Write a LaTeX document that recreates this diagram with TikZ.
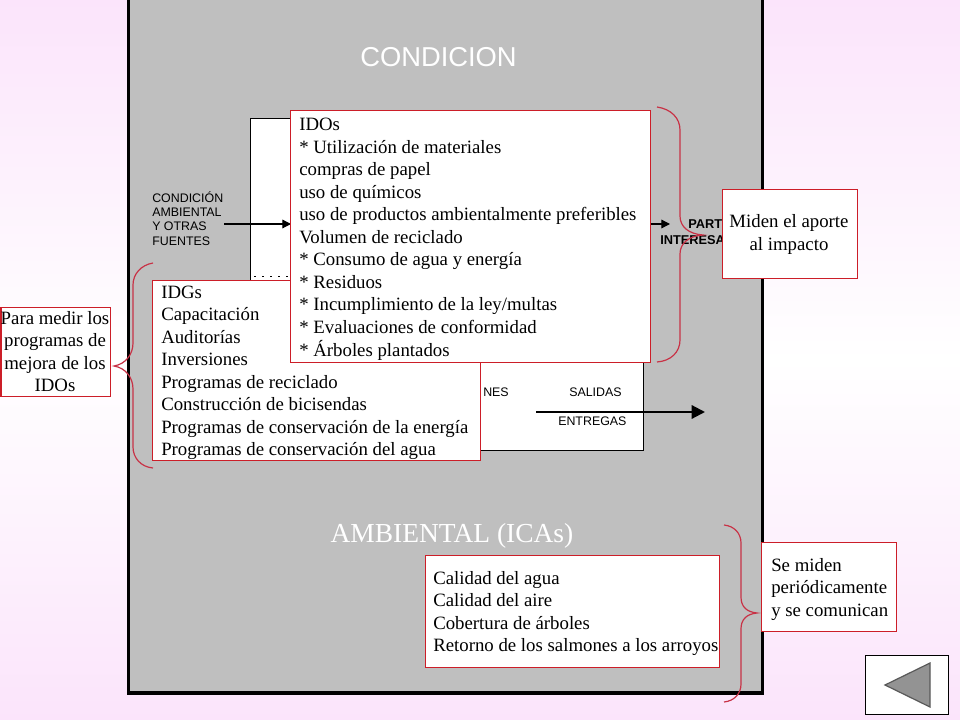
\documentclass[tikz,border=0pt]{standalone}
\usepackage{fontspec}
\setmainfont{Liberation Serif}
\setsansfont{Liberation Sans}
\usetikzlibrary{arrows.meta}
\definecolor{pinkbg}{RGB}{251,228,251}
\definecolor{panel}{RGB}{191,191,191}
\definecolor{redline}{RGB}{204,30,40}
\definecolor{bracecol}{RGB}{200,50,70}
\tikzset{
  x=0.75pt,y=-0.75pt,
  box/.style={draw=redline,line width=0.9pt,fill=white,inner sep=0pt},
  txt/.style={font=\fontsize{14.1}{16.9}\selectfont,align=left,anchor=north west,inner sep=0pt},
  ctr/.style={font=\fontsize{14.1}{16.9}\selectfont,align=center,inner sep=0pt},
  small/.style={font=\sffamily\fontsize{9.3}{10.8}\selectfont,align=left,inner sep=0pt,text=black},
  brace/.style={draw=bracecol,line width=0.9pt},
  flow/.style={draw=black,line width=0.9pt,-{Triangle[length=6.5pt,width=6.5pt]}},
  flowb/.style={draw=black,line width=1.6pt,-{Triangle[length=10pt,width=10pt]}},
}
\begin{document}
\begin{tikzpicture}
\useasboundingbox (0,0) rectangle (960,720);
\fill[top color=pinkbg,bottom color=white] (0,0) rectangle (960,360);
\fill[top color=white,bottom color=pinkbg] (0,360) rectangle (960,720);
\draw[fill=panel,draw=black,line width=2.6pt] (128.5,-3) rectangle (762.5,693);
\node[font=\sffamily\fontsize{20.5}{24}\selectfont,text=white,inner sep=0pt] (title) at (438.5,57) {CONDICION};
\node[font=\fontsize{20.6}{24}\selectfont,text=white,inner sep=0pt] (ambi) at (452,535.5) {AMBIENTAL (ICAs)};
% process box
\draw[fill=white,draw=black,line width=0.6pt] (250,118) rectangle (643,450);
\draw[black,line width=0.7pt,dash pattern=on 1.5pt off 4.5pt] (254,276) -- (288,276);
\node[small,anchor=north west] (cond) at (152,191) {CONDICIÓN\\AMBIENTAL\\Y OTRAS\\FUENTES};
\coordinate (cin) at (224,224);
\coordinate (cinend) at (291,224);
\draw[flow] (cin) -- (cinend);
\coordinate (oa) at (651,224);
\coordinate (ob) at (670,224);
\draw[flow] (oa) -- (ob);
\node[font=\sffamily\bfseries\fontsize{9.6}{12}\selectfont,align=left,anchor=north west,inner sep=0pt] (part) at (660,219) {\hspace*{21pt}PART\\INTERESA};
\node[small,anchor=west] (nes) at (483,392.5) {NES};
\node[small,anchor=west] (sal) at (569,392.5) {SALIDAS};
\node[small,anchor=west] (ent) at (558,421) {ENTREGAS};
\coordinate (sa) at (536,412);
\coordinate (sb) at (705,412);
\draw[flowb] (sa) -- (sb);
% IDGs
\node[box,minimum width=328pt*0.75,minimum height=180pt*0.75,anchor=north west] (idgbox) at (152,280) {};
\node[txt] (idgt) at (161,285.5) {IDGs\\Capacitación\\Auditorías\\Inversiones\\Programas de reciclado\\Construcción de bicisendas\\Programas de conservación de la energía\\Programas de conservación del agua};
% IDOs
\node[box,minimum width=360pt*0.75,minimum height=252pt*0.75,anchor=north west] (idobox) at (290,110) {};
\node[txt] (idot) at (299,118) {IDOs\\* Utilización de materiales\\compras de papel\\uso de químicos\\uso de productos ambientalmente preferibles\\Volumen de reciclado\\* Consumo de agua y energía\\* Residuos\\* Incumplimiento de la ley/multas\\* Evaluaciones de conformidad\\* Árboles plantados};
% ICAs
\node[box,minimum width=294pt*0.75,minimum height=112pt*0.75,anchor=north west] (icabox) at (425,555) {};
\node[txt] (icat) at (433,571) {Calidad del agua\\Calidad del aire\\Cobertura de árboles\\Retorno de los salmones a los arroyos};
% right IDO brace
\draw[brace] (657,107) .. controls (671,109) and (680,118) .. (680,130) -- (680,216) .. controls (680,227) and (689,234) .. (703,235) .. controls (689,236) and (680,243) .. (680,254) -- (680,340) .. controls (680,352) and (671,361) .. (657,362);
% left IDG brace
\draw[brace] (153,263) .. controls (141,265) and (133,274) .. (133,285) -- (133,343) .. controls (133,354) and (126,364) .. (114,366) .. controls (126,368) and (133,378) .. (133,389) -- (133,447) .. controls (133,458) and (141,467) .. (153,468);
% ICA brace
\draw[brace] (724,525) .. controls (734,526) and (741,533) .. (741,543) -- (741,597) .. controls (741,606) and (746,612) .. (757,613) .. controls (746,614) and (741,620) .. (741,629) -- (741,684) .. controls (741,694) and (734,701) .. (724,702);
% callouts
\node[box,minimum width=135pt*0.75,minimum height=89pt*0.75,anchor=north west] (miden) at (722,189) {};
\node[ctr] (mident) at (789,234.5) {Miden el aporte\\al impacto};
\node[box,minimum width=109pt*0.75,minimum height=89pt*0.75,anchor=north west] (para) at (0.5,307) {};
\node[ctr] (parat) at (55,351.5) {Para medir los\\programas de\\mejora de los\\IDOs};
\node[box,minimum width=135pt*0.75,minimum height=89pt*0.75,anchor=north west] (miden2) at (761,542) {};
\node[txt] (miden2t) at (771,558) {Se miden\\periódicamente\\y se comunican};
% nav button
\draw[fill=white,draw=black,line width=0.7pt] (865,655) rectangle (948,714);
\draw[fill=gray!85,draw=gray!70!black,line width=0.9pt] (885,685) -- (930,663) -- (930,707) -- cycle;
\end{tikzpicture}
\end{document}
